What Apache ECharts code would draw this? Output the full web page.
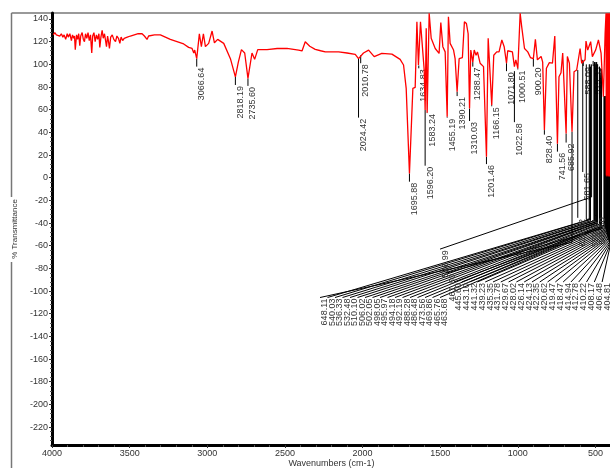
<!DOCTYPE html>
<html>
<head>
<meta charset="utf-8">
<style>html,body{margin:0;padding:0;background:#fff;overflow:hidden}#c{width:610px;height:468px}</style>
<script src="https://cdn.jsdelivr.net/npm/echarts@6/dist/echarts.min.js"></script>
</head>
<body>
<div id="c"></div>
<script>
// ---------- tick labels ----------
const xTicks = [4000, 3500, 3000, 2500, 2000, 1500, 1000, 500];
const xMinor = [3900,3800,3700,3600,3400,3300,3200,3100,2900,2800,2700,2600,2400,2300,2200,2100,1900,1800,1700,1600,1400,1300,1200,1100,900,800,700,600];
const yTicks = [140,120,100,80,60,40,20,0,-20,-40,-60,-80,-100,-120,-140,-160,-180,-200,-220];
const yMinor = [];
yTicks.forEach(function (t) { [4, 8, 12, 16].forEach(function (d) { yMinor.push(t - d); }); });

// ---------- spectrum ----------
const wavenumber = [3992,3982,3972,3962,3950,3940,3930,3922,3912,3902,3895,3885,3875,3868,3860,3855,3850,3842,3835,3828,3821,3815,3806,3798,3791,3784,3776,3768,3760,3752,3744,3738,3730,3722,3714,3706,3698,3692,3685,3677,3670,3662,3655,3649,3642,3636,3630,3622,3612,3602,3591,3582,3572,3563,3555,3545,3535,3525,3515,3495,3470,3445,3420,3405,3388,3378,3366,3340,3302,3270,3238,3195,3152,3120,3098,3087,3081,3068,3051,3038,3025,3012,2991,2969,2954,2933,2894,2851,2841,2819,2800,2780,2759,2738,2712,2695,2675,2615,2550,2487,2412,2390,2369,2340,2305,2270,2240,2200,2154,2100,2047,2026,1994,1961,1925,1876,1811,1758,1736,1719,1698,1676,1661,1650,1640,1627,1603,1597,1590,1584,1571,1558,1532,1507,1496,1483,1468,1455,1447,1436,1414,1404,1391,1378,1357,1344,1331,1320,1311,1303,1290,1281,1269,1260,1243,1221,1202,1191,1183,1168,1155,1136,1121,1103,1088,1073,1065,1035,1022,1013,1000,985,975,957,936,919,900,887,874,850,840,829,816,797,777,762,745,735,722,711,689,681,668,651,638,621,599,589,567,561,550,531,520,499,481,464,449,438,432,430,428,426,424,422,420,418,416,414,412,410,408,406,404,402];
const transmittance = [126,128,126,127,125,127,124,126,122,127,124,127,121,126,123,125,113,126,122,127,116.5,125,128,122,120,127,123,128,121,126,110,125,128,120,126,122,127,115,124,130,123,127,121,115.6,125,120,114,124,126,122,120,125,123,118.5,124,121,123,122,124,125,126,127,127,125,122,125,126,126,126,124,122,120,118,115,114,110,112.6,105,127,115.6,127,115.6,118.5,129.4,119,122,118.5,105,106,89,102,113,110,87.6,110,104.4,113,113,114,114,112.6,111.8,120,116,113.2,112,111,111,111,110,108.8,105,110,112.6,106.8,109.7,109,104.4,99.4,78.8,3.8,78.8,79.7,137.6,99.4,137.6,95,59.7,131.8,57.4,145,123,114,109.7,136.8,115.6,111,53.8,142,118.5,112.6,105,75.9,105,106,137.6,136,127,61,112.6,102,112.6,108,111,101,98,18.5,123,124,64,108,111,111,121.5,115.6,101,112,111,98,104,96.5,145,133,114,111,106,105,122,104,107,102,42,96.5,101.5,101,125,30,89,92.6,110,39,107,101,40.6,93.5,95,114,101,104,120.6,112.6,120,106.8,112.6,121.5,110,71.5,127,145,2,145,1,145,3,145,2,145,1,145,2,145,1,145,2,145];

// ---------- straight peak annotations ----------
const peakText  = ["3066.64","2818.19","2735.60","2024.42","2010.78","1695.88","1634.83","1596.20","1583.24","1455.19","1390.21","1310.03","1288.47","1201.46","1166.15","1071.80","1022.58","1000.51","900.20","828.40","741.56","685.92","581.65","588.09","515.33"];
const peakWn    = [3068,2819,2738,2026,2012,1698,1638,1597,1584,1455,1391,1311,1290,1202,1168,1073,1022,1000,900,829,745,689,582,579,515];
const peakStart = [105,89,87.6,105,108,3.8,99,59.7,57.4,53.8,75.9,61,102,18.5,64,101,94,96.5,105,42,30,39,104,103,103];
const peakEnd   = [98,81.8,81,53,101,-3.5,96.5,10.6,57,53,72,50,98,12,63,94,49,95.5,98,38,23,31,5,98.5,98.5];

// ---------- fan annotations, lower row ----------
const fanLowText  = ["648.11","540.03","536.33","532.48","510.10","506.02","502.05","498.05","495.97","494.18","492.19","488.28","486.48","473.56","469.86","465.76","463.68"];
const fanLowWn    = [651,540,536,532,510,506,502,498,496,494,492,488,486,474,470,466,464];
const fanLowStart = [40.6,100,100,98,100,102,102,100,100,102,102,100,100,98,96,90,88];
const fanLowElbow = [-57,-37,-37,-38,-38,-38,-39,-39,-39,-40,-40,-40,-41,-41,-42,-43,-44];

// ---------- fan annotations, upper row ----------
const fanHighText  = ["445.60","443.10","441.32","439.23","435.35","431.78","429.67","428.02","426.14","424.13","422.35","420.62","419.47","418.47","414.94","412.78","410.22","408.17","406.48","404.81"];
const fanHighWn    = [445,443,441,439,435,432,430,428,426,424,422,421,419,418,415,413,410,408,406,405];
const fanHighStart = [72,72,70,72,72,70,70,2,2,2,2,2,2,2,2,2,2,2,2,2];
const fanHighElbow = [-42,-42,-43,-44,-45,-46,-47,-48,-49,-50,-51,-52,-53,-54,-55,-56,-57,-58,-59,-60];

// ---------- the few separately routed annotations ----------
const oddText  = ["526.99","461.60","614.82","559.27","505.50"];
const oddWn    = [525,461,614,559,505];
const oddStart = [100,96,95,100,102];
const oddElbow = [-17,-45,-35,-37,-33];
const oddEndWn = [1501,1456,614,530,485];
const oddEndT  = [-63,-84,-35.5,-36,-34];

// Annotation records: [wn, startT, elbowT, endWn, endT]
const notes = [];
peakText.forEach(function (t, i) { notes.push({ text: t, value: [peakWn[i], peakStart[i], peakEnd[i], peakWn[i], peakEnd[i]] }); });
const lowEndT = -105.7, highEndT = -92;
fanLowText.forEach(function (t, i) { notes.push({ text: t, value: [fanLowWn[i], fanLowStart[i], fanLowElbow[i], 2274 - 48.3 * i, lowEndT] }); });
fanHighText.forEach(function (t, i) { notes.push({ text: t, value: [fanHighWn[i], fanHighStart[i], fanHighElbow[i], 1411 - 50.2 * i, highEndT] }); });
oddText.forEach(function (t, i) { notes.push({ text: t, value: [oddWn[i], oddStart[i], oddElbow[i], oddEndWn[i], oddEndT[i]] }); });

const FONT = '"Liberation Sans", Arial, sans-serif';
const INK = '#333333';
const chart = echarts.init(document.getElementById('c'), null, { renderer: 'canvas' });

function renderNote(params, api) {
  const note = notes[params.dataIndex];
  const a = api.coord([api.value(0), api.value(1)]);
  const b = api.coord([api.value(0), api.value(2)]);
  const c = api.coord([api.value(3), api.value(4)]);
  return {
    type: 'group',
    children: [
      { type: 'polyline', shape: { points: [a, b, c] }, style: { stroke: '#000', lineWidth: 1, fill: null } },
      { type: 'text', x: c[0] + 5, y: c[1] + 1, rotation: Math.PI / 2,
        style: { text: note.text, x: 0, y: 0, align: 'right', verticalAlign: 'middle', font: '9px ' + FONT, fill: INK } }
    ]
  };
}

const majorAxisLine = { show: true, onZero: false, lineStyle: { color: '#000', width: 3 } };
const plainNumber = function (v) { return String(v); };

chart.setOption({
  animation: false,
  grid: { left: 52, right: -1, top: 13, bottom: 23, outerBoundsMode: 'none', containLabel: false },
  xAxis: [
    { type: 'value', inverse: true, min: 400, max: 4000, position: 'bottom',
      name: 'Wavenumbers (cm-1)', nameLocation: 'middle', nameGap: 19, nameMoveOverlap: false,
      nameTextStyle: { fontFamily: FONT, fontSize: 9, color: INK, verticalAlign: 'middle' },
      axisLine: majorAxisLine, splitLine: { show: false },
      axisTick: { show: true, length: 3, customValues: xTicks, lineStyle: { color: '#333' } },
      axisLabel: { show: true, margin: 4, customValues: xTicks, formatter: plainNumber, fontFamily: FONT, fontSize: 9, color: INK, hideOverlap: false, showMinLabel: true, showMaxLabel: true } },
    { type: 'value', inverse: true, min: 400, max: 4000, position: 'bottom',
      axisLine: { show: false, onZero: false }, splitLine: { show: false }, axisLabel: { show: false },
      axisTick: { show: true, length: 2, customValues: xMinor, lineStyle: { color: '#555' } } }
  ],
  yAxis: [
    { type: 'value', min: -235.8, max: 145.3, position: 'left',
      name: '% Transmittance', nameLocation: 'middle', nameGap: 32,
      nameTextStyle: { fontFamily: FONT, fontSize: 8, color: INK },
      axisLine: majorAxisLine, splitLine: { show: false },
      axisTick: { show: true, length: 3, customValues: yTicks, lineStyle: { color: '#333' } },
      axisLabel: { show: true, margin: 4, customValues: yTicks, formatter: plainNumber, fontFamily: FONT, fontSize: 9, color: INK } },
    { type: 'value', min: -235.8, max: 145.3, position: 'left',
      axisLine: { show: false, onZero: false }, splitLine: { show: false }, axisLabel: { show: false },
      axisTick: { show: true, length: 2, customValues: yMinor.filter(function (v) { return v > -235; }), lineStyle: { color: '#555' } } }
  ],
  graphic: [
    { type: 'line', silent: true, shape: { x1: 11.5, y1: 13, x2: 610, y2: 13 }, style: { stroke: '#777', lineWidth: 1.5 } },
    { type: 'line', silent: true, shape: { x1: 11.5, y1: 13, x2: 11.5, y2: 197 }, style: { stroke: '#777', lineWidth: 1.5 } },
    { type: 'line', silent: true, shape: { x1: 11.5, y1: 262, x2: 11.5, y2: 468 }, style: { stroke: '#777', lineWidth: 1.5 } }
  ],
  series: [
    { type: 'custom', silent: true, clip: false, z: 2, renderItem: renderNote,
      encode: { x: [0, 3], y: [1, 2, 4] }, data: notes.map(function (n) { return n.value; }) },
    { type: 'line', silent: true, z: 3, showSymbol: false, symbol: 'none', smooth: false, clip: true,
      lineStyle: { color: '#ff0000', width: 1.3 },
      data: wavenumber.map(function (w, i) { return [w, transmittance[i]]; }) }
  ]
});
</script>
</body>
</html>
